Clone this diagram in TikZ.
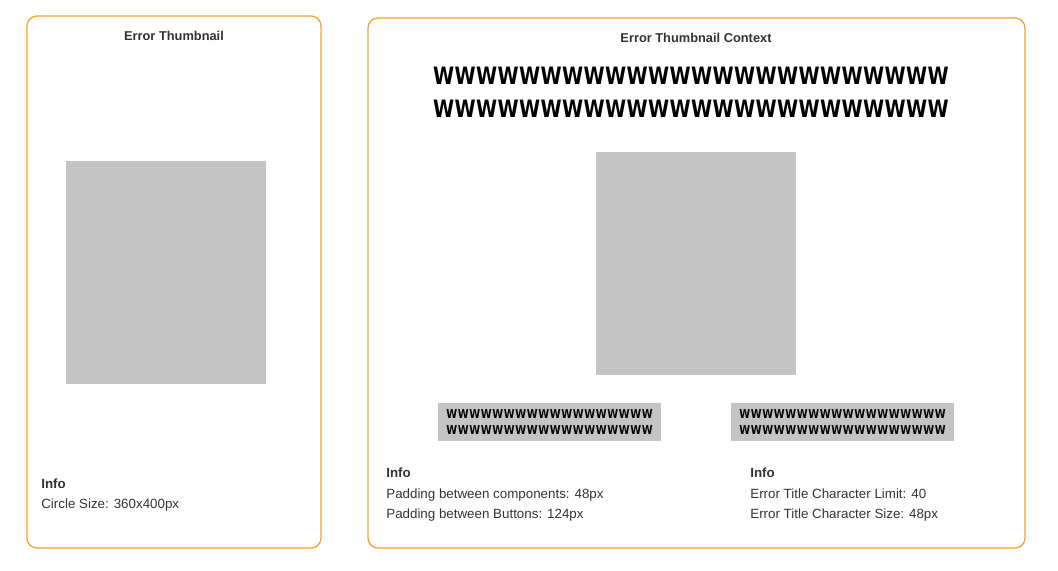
\documentclass[tikz,border=0pt]{standalone}
\usepackage{fontspec}
\setmainfont{Liberation Sans}
\newfontfamily\wfont{DejaVu Sans}
\definecolor{frameorange}{HTML}{F7A131}
\definecolor{placegray}{HTML}{C4C4C4}
\definecolor{textgray}{HTML}{333333}

\begin{document}
\begin{tikzpicture}[x=0.02cm, y=-0.02cm,
    frame/.style={draw=frameorange, line width=0.75pt, rounded corners=5.7pt},
    heading/.style={font=\fontsize{7.3}{9}\selectfont\bfseries, text=textgray, anchor=base, inner sep=0pt},
    infohead/.style={font=\fontsize{7.6}{9}\selectfont\bfseries, text=textgray, anchor=base west, inner sep=0pt},
    infotext/.style={font=\fontsize{7.6}{9}\selectfont, text=textgray, anchor=base west, inner sep=0pt},
    bigw/.style={font=\wfont\fontsize{13.6}{16}\selectfont\bfseries, anchor=base, inner sep=0pt},
    smallw/.style={font=\wfont\fontsize{7}{9}\selectfont\bfseries, anchor=base, inner sep=0pt},
    button/.style={fill=placegray, minimum width=4.46cm, minimum height=0.76cm, inner sep=0pt}]
    \useasboundingbox (0,0) rectangle (1058,571);

    % Error Thumbnail
    \draw[frame] (27,16) rectangle (321,548);
    \node[heading] (thumbTitle) at (174,41) {Error Thumbnail};
    \fill[placegray] (66,161) rectangle (266,384);
    \node[infohead] (thumbInfo) at (41,488) {Info};
    \node[infotext] (thumbSize) at (41,508) {Circle Size: 360x400px};

    % Error Thumbnail Context
    \draw[frame] (368,18) rectangle (1025,548);
    \node[heading] (ctxTitle) at (696,43) {Error Thumbnail Context};

    % Error title, two rows of 24
    \foreach \k in {0,...,23} {
        \node[bigw] (titleA\k) at ({443.75+21.5*\k},85) {\scalebox{0.8}[1]{W}};
        \node[bigw] (titleB\k) at ({443.75+21.5*\k},117) {\scalebox{0.8}[1]{W}};
    }
    \fill[placegray] (596,152) rectangle (796,375);

    % Buttons
    \node[button] (btnLeft) at (549.5,422) {};
    \node[button] (btnRight) at (842.5,422) {};
    \foreach \k in {0,...,17} {
        \node[smallw] (leftA\k) at ({451.75+11.5*\k},418) {\scalebox{0.8}[1]{W}};
        \node[smallw] (leftB\k) at ({451.75+11.5*\k},434) {\scalebox{0.8}[1]{W}};
        \node[smallw] (rightA\k) at ({744.75+11.5*\k},418) {\scalebox{0.8}[1]{W}};
        \node[smallw] (rightB\k) at ({744.75+11.5*\k},434) {\scalebox{0.8}[1]{W}};
    }

    % Info columns
    \node[infohead] (ctxInfoA) at (386,477) {Info};
    \node[infotext] (padComp) at (386,498) {Padding between components: 48px};
    \node[infotext] (padBtn) at (386,518) {Padding between Buttons: 124px};
    \node[infohead] (ctxInfoB) at (750,477) {Info};
    \node[infotext] (charLimit) at (750,498) {Error Title Character Limit: 40};
    \node[infotext] (charSize) at (750,518) {Error Title Character Size: 48px};
\end{tikzpicture}
\end{document}
